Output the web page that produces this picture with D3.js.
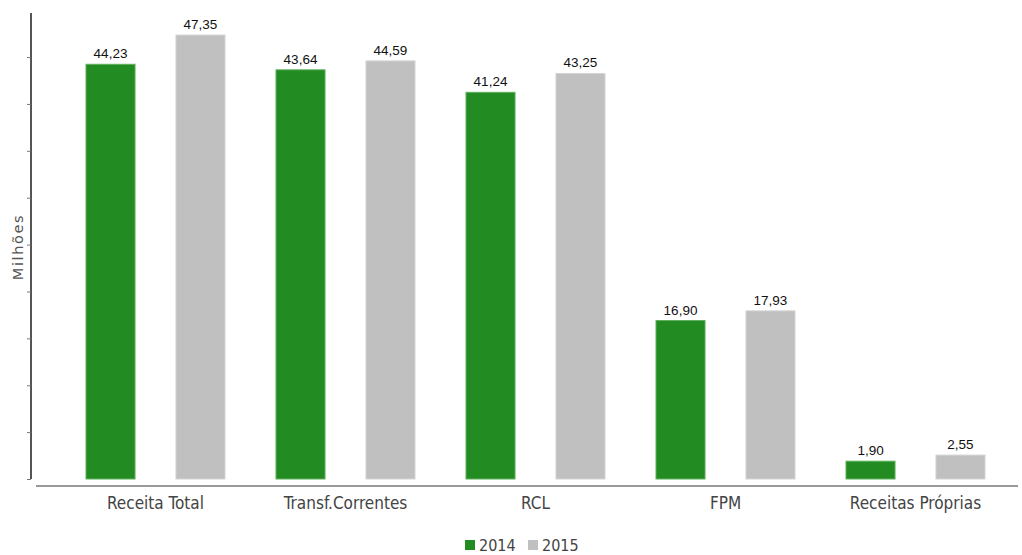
<!DOCTYPE html>
<html>
<head>
<meta charset="utf-8">
<script src="https://cdn.jsdelivr.net/npm/d3@7"></script>
<style>
  html, body { margin: 0; padding: 0; background: #fff; }
  svg { display: block; }
</style>
</head>
<body>
<svg id="chart" width="1022" height="555"></svg>
<script>
// Revenue categories and yearly values (R$ millions)
const categories = ["Receita Total", "Transf.Correntes", "RCL", "FPM", "Receitas Próprias"];
const years = ["2014", "2015"];
const values2014 = [44.23, 43.64, 41.24, 16.90, 1.90];
const values2015 = [47.35, 44.59, 43.25, 17.93, 2.55];
const yTicks = [0, 5, 10, 15, 20, 25, 30, 35, 40, 45];
const colors = { "2014": "#228b22", "2015": "#c0c0c0" };

const rows = categories.map((c, i) => ({ category: c, "2014": values2014[i], "2015": values2015[i] }));

const svg = d3.select("#chart");
const baseY = 479;

const x = d3.scaleBand().domain(categories).range([60.5, 1010.5]).padding(0);
const xInner = d3.scaleBand().domain(years).range([25.5, 164.5]).paddingInner(0.455).paddingOuter(0);
const y = d3.scaleLinear().domain([0, 49.7]).range([baseY, 13]);

// Y axis: ticks without labels
const yAxis = d3.axisLeft(y).tickValues(yTicks).tickSize(4).tickFormat("");
const gy = svg.append("g").attr("transform", "translate(31,0)").call(yAxis);
gy.select(".domain").attr("stroke", "#555").attr("stroke-width", 2)
  .attr("d", `M0,${y(49.7)}V${baseY}`);
gy.selectAll(".tick line").attr("stroke", "#777").attr("stroke-width", 1);

// Axis title
svg.append("text")
  .attr("transform", `translate(23,247) rotate(-90)`)
  .attr("text-anchor", "middle")
  .attr("font-family", "DejaVu Sans, Verdana, sans-serif")
  .attr("font-size", 14.5)
  .attr("letter-spacing", 1.6)
  .attr("fill", "#555")
  .text("Milhões");

// X axis baseline and category labels
svg.append("line")
  .attr("x1", 36).attr("x2", 1018)
  .attr("y1", 486).attr("y2", 486)
  .attr("stroke", "#999").attr("stroke-width", 2);

const xAxis = d3.axisBottom(x).tickSize(0).tickPadding(0);
const gx = svg.append("g").attr("transform", "translate(0,497)").call(xAxis);
gx.select(".domain").remove();
gx.selectAll(".tick text")
  .attr("font-family", "DejaVu Sans Condensed, DejaVu Sans, sans-serif")
  .attr("font-stretch", "condensed")
  .attr("font-size", 17)
  .attr("fill", "#444");

// Bars
const groups = svg.append("g").selectAll("g")
  .data(rows).join("g")
  .attr("transform", d => `translate(${x(d.category)},0)`);

groups.selectAll("rect")
  .data(d => years.map(k => ({ key: k, value: d[k] })))
  .join("rect")
  .attr("x", d => xInner(d.key))
  .attr("width", xInner.bandwidth())
  .attr("y", d => y(d.value))
  .attr("height", d => baseY - y(d.value))
  .attr("fill", d => colors[d.key])
  .attr("stroke", d => d.key === "2014" ? "#5fb05f" : "#d4d4d4")
  .attr("stroke-width", 1);

// Value labels
const fmt = v => d3.format(".2f")(v).replace(".", ",");
groups.selectAll("text.val")
  .data(d => years.map(k => ({ key: k, value: d[k] })))
  .join("text")
  .attr("class", "val")
  .attr("x", d => xInner(d.key) + xInner.bandwidth() / 2)
  .attr("y", d => y(d.value) - 6)
  .attr("text-anchor", "middle")
  .attr("font-family", "Liberation Sans Narrow, Arial Narrow, sans-serif")
  .attr("font-size", 13.5)
  .attr("fill", "#111")
  .text(d => fmt(d.value));

// Legend
const legend = svg.append("g").attr("transform", "translate(465,550)");
const items = legend.selectAll("g").data(years).join("g")
  .attr("transform", (d, i) => `translate(${i * 63},0)`);
items.append("rect")
  .attr("x", 0).attr("y", -10).attr("width", 10).attr("height", 10)
  .attr("fill", d => colors[d]);
items.append("text")
  .attr("x", 14).attr("y", 1)
  .attr("font-family", "DejaVu Sans Condensed, DejaVu Sans, sans-serif")
  .attr("font-stretch", "condensed")
  .attr("font-size", 16)
  .attr("fill", "#444")
  .text(d => d);
</script>
</body>
</html>
